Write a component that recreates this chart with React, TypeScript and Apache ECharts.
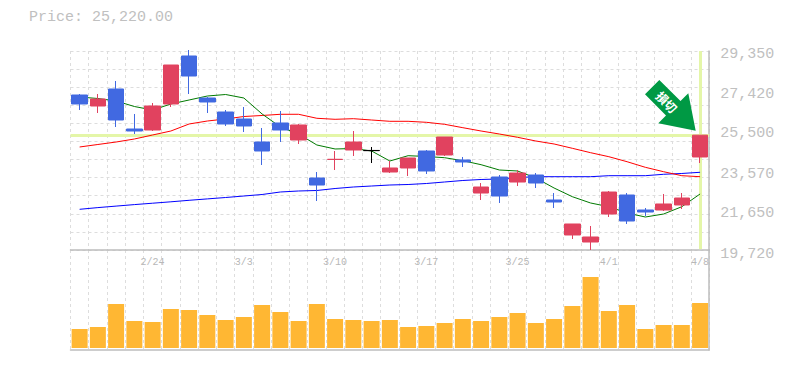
import React, { useEffect, useRef } from "react";
import * as echarts from "echarts";

const priceTitle = "Price: 25,220.00";
const arrowLabel = "損切";
const lastPrice = 25220;

const dates = [
  "2/18", "2/19", "2/20", "2/21", "2/24", "2/25", "2/26", "2/27", "2/28", "3/3",
  "3/4", "3/5", "3/6", "3/7", "3/10", "3/11", "3/12", "3/13", "3/14", "3/17",
  "3/18", "3/19", "3/21", "3/24", "3/25", "3/26", "3/27", "3/28", "3/31", "4/1",
  "4/2", "4/3", "4/4", "4/7", "4/8",
];

const priceTicks = [19720, 21650, 23570, 25500, 27420, 29350];

// open, close, low, high
const candles = [
  [27146, 26715, 26427, 27194],
  [26619, 26954, 26284, 27194],
  [27434, 25948, 25613, 27817],
  [25517, 25421, 25277, 26236],
  [25469, 26619, 25421, 26763],
  [26715, 28583, 26571, 28583],
  [29015, 28056, 27194, 29302],
  [27002, 26811, 26284, 27050],
  [26331, 25757, 25661, 26427],
  [25996, 25661, 25373, 26571],
  [24894, 24463, 23792, 25565],
  [25805, 25469, 24894, 26379],
  [24990, 25709, 24799, 25757],
  [23169, 22833, 22067, 23457],
  [24056, 24066, 23553, 24463],
  [24511, 24894, 24223, 25421],
  [24490, 24480, 23888, 24655],
  [23457, 23649, 23409, 23984],
  [23649, 24128, 23265, 24128],
  [24463, 23505, 23361, 24511],
  [24271, 25133, 24223, 25133],
  [24032, 23936, 23697, 24176],
  [22450, 22738, 22115, 22929],
  [23217, 22307, 21972, 23313],
  [22977, 23409, 22785, 23553],
  [23313, 22929, 22690, 23409],
  [22115, 22019, 21732, 22450],
  [20439, 20966, 20247, 20966],
  [20103, 20343, 19720, 20870],
  [21444, 22498, 21301, 22546],
  [22355, 21109, 20966, 22450],
  [21636, 21540, 21349, 21732],
  [21636, 21924, 21588, 22403],
  [21876, 22211, 21684, 22450],
  [24176, 25220, 23888, 25220],
];
const unchangedIndex = 16;

const maShort = [
  27050, 26978, 26859, 26595, 26427, 26715, 26907, 27098, 27170, 27002,
  26236, 25613, 25277, 24751, 24559, 24583, 24463, 23984, 24238, 24200,
  24142, 23998, 23807, 23553, 23505, 23170, 22690, 22274, 21972, 21794,
  21493, 21301, 21444, 21794, 22403,
];
const maMid = [
  24655, 24775, 24894, 25038, 25230, 25421, 25757, 25900, 25996, 26116,
  26164, 26222, 26222, 26030, 25982, 26011, 25948, 25886, 25886, 25838,
  25742, 25580, 25421, 25277, 25119, 24942, 24799, 24592, 24382, 24190,
  23950, 23682, 23471, 23280, 23232,
];
const maLong = [
  21670, 21751, 21823, 21895, 21962, 22029, 22101, 22168, 22235, 22307,
  22379, 22499, 22547, 22571, 22666, 22738, 22786, 22834, 22858, 22906,
  22978, 23050, 23098, 23122, 23193, 23232, 23232, 23232, 23232, 23280,
  23280, 23280, 23347, 23386, 23443,
];
const volumes = [
  19, 21, 44, 27, 26, 39, 38, 33, 28, 31, 43, 36, 27, 44, 29, 28, 27, 28,
  21, 22, 25, 29, 27, 31, 35, 25, 29, 42, 71, 37, 43, 19, 23, 23, 45,
];

const MONO = "'Liberation Mono', monospace";
const RED = "#E1425F";
const BLUE = "#4169E1";
const GRID = "#dddddd";
const FRAME = "#bdbdbd";
const TEXT = "#c0c0c0";
const LIME = "#E4F6A8";
const LEFT = 70.5;
const WIDTH = 638.7;

const dashed = { show: true, lineStyle: { color: GRID, type: [3, 3] as any, width: 1 } };
const solid = { show: true, lineStyle: { color: FRAME, width: 1.5 } };
const hiddenX = (gridIndex: number) => ({
  type: "category" as const, gridIndex, data: dates, boundaryGap: true,
  axisLine: { show: false }, axisTick: { show: false }, axisLabel: { show: false }, splitLine: { show: false },
});
const hiddenY = (gridIndex: number, min: number, max: number) => ({
  type: "value" as const, gridIndex, min, max, position: "right" as const,
  axisLine: { show: false }, axisTick: { show: false }, axisLabel: { show: false }, splitLine: { show: false },
});

export default function App() {
  const ref = useRef<HTMLDivElement>(null);
  useEffect(() => {
    document.body.style.margin = "0";
    const chart = echarts.init(ref.current!, undefined, { renderer: "svg" });
    chart.setOption({
      animation: false,
      backgroundColor: "#ffffff",
      grid: [
        { left: LEFT, width: WIDTH, top: 51, height: 199 },
        { left: LEFT, width: WIDTH, top: 49, height: 201 },
        { left: LEFT, width: WIDTH, top: 248, height: 100 },
        { left: LEFT, width: WIDTH, top: 250, height: 100 },
        { left: LEFT, width: WIDTH, top: 54, height: 200 },
      ],
      xAxis: [
        {
          type: "category", gridIndex: 0, data: dates, boundaryGap: true,
          axisLine: solid, axisTick: { show: false },
          splitLine: { ...dashed, interval: 0 },
          axisLabel: {
            interval: (i: number) => i % 5 === 4,
            fontFamily: MONO, fontSize: 10, color: "#b8b8b8", margin: 7,
          },
        },
        hiddenX(1),
        hiddenX(2),
        {
          type: "category", gridIndex: 3, data: dates, boundaryGap: true,
          axisLine: solid, axisTick: { show: false }, axisLabel: { show: false },
          splitLine: { ...dashed, interval: 0 },
        },
        hiddenX(4),
      ],
      yAxis: [
        {
          type: "value", gridIndex: 0, min: 0, max: 11, interval: 1, position: "right",
          axisLine: solid, axisTick: { show: false }, axisLabel: { show: false },
          splitLine: dashed,
        },
        hiddenY(1, 19720, 29350),
        hiddenY(2, 0, 100),
        {
          type: "value", gridIndex: 3, min: 0, max: 1, position: "right",
          axisLine: solid, axisTick: { show: false }, axisLabel: { show: false }, splitLine: { show: false },
        },
        {
          ...hiddenY(4, 19720, 29350),
          axisLabel: {
            show: true, customValues: priceTicks, margin: 11, align: "left",
            fontFamily: MONO, fontSize: 15, color: TEXT,
            formatter: (v: number) => v.toLocaleString("en-US"),
          },
        },
      ],
      series: [
        {
          type: "line", xAxisIndex: 1, yAxisIndex: 1, data: [], z: 1, symbol: "none",
          markLine: {
            silent: true, symbol: "none", label: { show: false }, z: 1,
            lineStyle: { color: LIME, width: 3, type: "solid" },
            data: [
              { yAxis: lastPrice },
              [{ xAxis: dates[34], yAxis: 29250 }, { xAxis: dates[34], yAxis: 19760 }],
            ],
          },
        },
        { type: "line", name: "MA75", xAxisIndex: 1, yAxisIndex: 1, data: maLong, symbol: "none", z: 2, lineStyle: { color: "#0000ff", width: 1 } },
        { type: "line", name: "MA25", xAxisIndex: 1, yAxisIndex: 1, data: maMid, symbol: "none", z: 2, lineStyle: { color: "#ff0000", width: 1 } },
        { type: "line", name: "MA5", xAxisIndex: 1, yAxisIndex: 1, data: maShort, symbol: "none", z: 2, lineStyle: { color: "#007a00", width: 1 } },
        {
          type: "candlestick", xAxisIndex: 1, yAxisIndex: 1, z: 3, barWidth: 16, clip: false,
          itemStyle: { color: RED, color0: BLUE, borderColor: RED, borderColor0: BLUE, borderWidth: 1 },
          data: candles.map((c, i) =>
            i === unchangedIndex
              ? { value: c, itemStyle: { color: "#000", color0: "#000", borderColor: "#000", borderColor0: "#000" } }
              : c
          ),
        },
        {
          type: "bar", xAxisIndex: 2, yAxisIndex: 2, data: volumes, barWidth: 16, z: 3,
          itemStyle: { color: "#FFB733" },
        },
      ],
      graphic: [
        {
          type: "text", left: 29, top: 10, z: 10,
          style: { text: priceTitle, fontFamily: MONO, fontSize: 15, fill: TEXT },
        },
        {
          type: "polygon", z: 10,
          shape: {
            points: [
              [659.3, 80], [680.5, 101], [688.3, 93.3], [695.7, 130.7],
              [658.3, 123.3], [666, 115.6], [645, 94.3],
            ],
          },
          style: { fill: "#009944" },
        },
        {
          type: "text", x: 667, y: 101.5, rotation: -Math.PI / 4, z: 11,
          style: {
            text: arrowLabel, fontFamily: "'Noto Sans CJK JP', sans-serif", fontSize: 12, fontWeight: "bold",
            fill: "#ffffff", align: "center", verticalAlign: "middle",
          },
        },
      ],
    });
    return () => chart.dispose();
  }, []);
  return <div ref={ref} style={{ position: "absolute", left: 0, top: 0, width: 785, height: 370 }} />;
}
